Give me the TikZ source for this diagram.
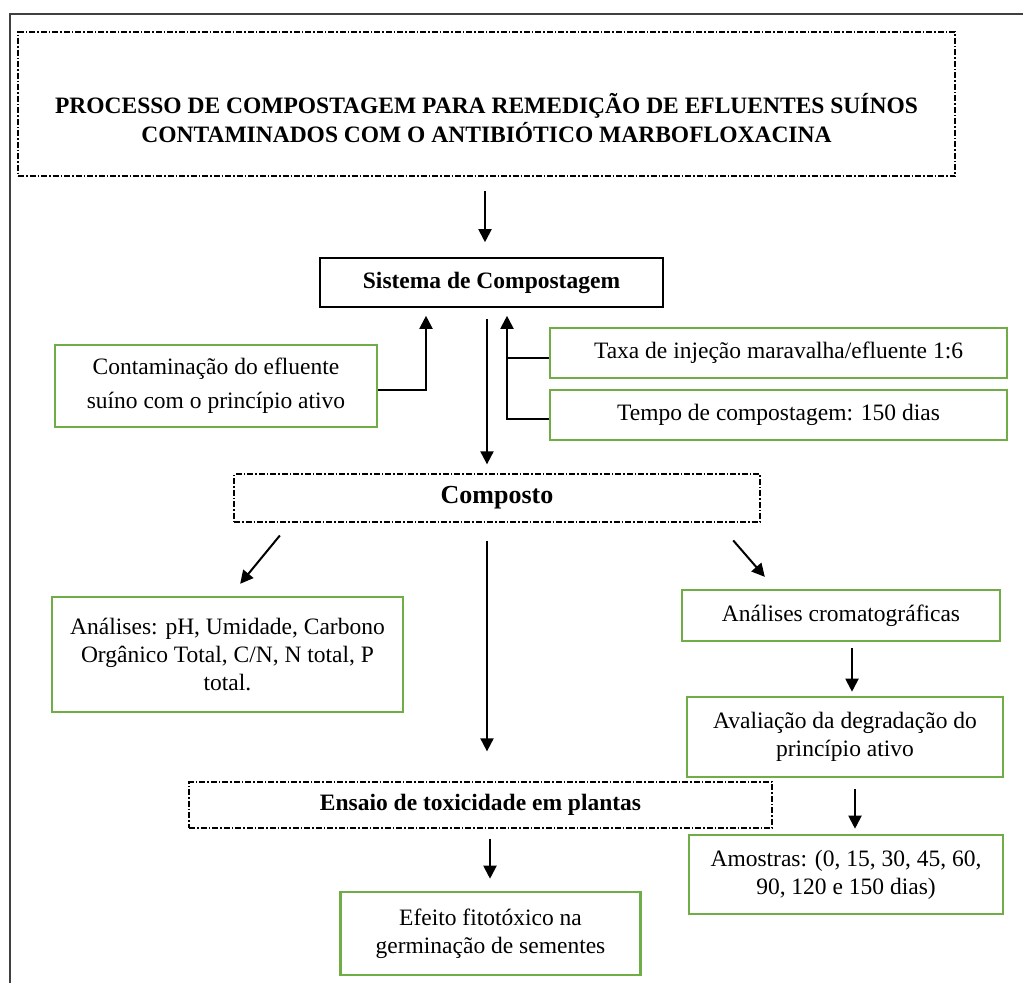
\documentclass[tikz,border=0pt]{standalone}
\usepackage{fontspec}
\setmainfont{Liberation Serif}
\usetikzlibrary{arrows.meta}
\definecolor{boxgreen}{RGB}{112,173,71}

\begin{document}
\begin{tikzpicture}[x=1pt, y=-1pt,
    txt/.style={font=\fontsize{23.5}{28}\selectfont, align=center},
    greenbox/.style={txt, draw=boxgreen, line width=2.6pt, inner sep=0pt},
    blackbox/.style={txt, draw, line width=1.6pt, inner sep=0pt, font=\bfseries\fontsize{23.5}{28}\selectfont},
    dashbox/.style={txt, draw, line width=1.3pt, dash pattern=on 6pt off 2pt on 1.5pt off 2pt, inner sep=0pt, font=\bfseries\fontsize{23.5}{28}\selectfont},
    arrow/.style={-{Triangle[length=13pt,width=13pt]}, line width=2pt}]
    \useasboundingbox (0,0) rectangle (1023,983);
    \draw[line width=2pt, black!75] (1023,14) -- (10,14) -- (10,983);

    % Nodes
    \node[dashbox, minimum width=937pt, minimum height=144pt] (titlebox) at (486.5,104) {};
    \node[txt, font=\bfseries\fontsize{23.5}{29}\selectfont] (title) at (486.5,118.5) {PROCESSO DE COMPOSTAGEM PARA REMEDIÇÃO DE EFLUENTES SUÍNOS\\CONTAMINADOS COM O ANTIBIÓTICO MARBOFLOXACINA};
    \node[blackbox, minimum width=343pt, minimum height=49pt] (sistema) at (491.5,282.5) {Sistema de Compostagem};
    \node[greenbox, minimum width=322pt, minimum height=82pt] (contam) at (216,386) {Contaminação do efluente\\[6pt]suíno com o princípio ativo}; % input
    \node[greenbox, minimum width=457pt, minimum height=50pt] (taxa) at (778.5,353) {Taxa de injeção maravalha/efluente 1:6}; % input
    \node[greenbox, minimum width=457pt, minimum height=50pt] (tempo) at (778.5,415) {Tempo de compostagem: 150 dias}; % input
    \node[dashbox, minimum width=526pt, minimum height=48pt, font=\bfseries\fontsize{26}{30}\selectfont] (composto) at (497,498) {Composto};
    \node[greenbox, minimum width=351pt, minimum height=115pt] (analises) at (227.5,654.5) {Análises: pH, Umidade, Carbono\\Orgânico Total, C/N, N total, P\\total.};
    \node[greenbox, minimum width=318pt, minimum height=51pt] (cromato) at (841,615.5) {Análises cromatográficas};
    \node[greenbox, minimum width=316pt, minimum height=80pt] (avaliacao) at (845,737) {Avaliação da degradação do\\princípio ativo};
    \node[greenbox, minimum width=314pt, minimum height=79pt] (amostras) at (846,874.5) {Amostras: (0, 15, 30, 45, 60,\\90, 120 e 150 dias)};
    \node[dashbox, minimum width=583pt, minimum height=46pt] (ensaio) at (480.5,805) {Ensaio de toxicidade em plantas};
    \node[greenbox, minimum width=300pt, minimum height=83pt] (efeito) at (490.5,933.5) {Efeito fitotóxico na\\germinação de sementes};

    % Edges
    \draw[arrow, shorten <=14pt, shorten >=15pt] ([xshift=-1.5pt]titlebox.south) -- ([xshift=-1.5pt]titlebox.south |- sistema.north);
    \draw[arrow, shorten >=8pt] ([yshift=-4pt]contam.east) -| ([xshift=-65.5pt]sistema.south);
    \draw[arrow, shorten >=8pt] ([yshift=-4pt]tempo.west) -| ([xshift=15.5pt]sistema.south);
    \draw[line width=2pt] ([yshift=-5pt]taxa.west) -- +(-43pt,0);
    \draw[arrow, shorten <=11pt, shorten >=9pt] ([xshift=-4.5pt]sistema.south) -- ([xshift=-4.5pt]sistema.south |- composto.north);
    \draw[arrow, shorten <=16.6pt, shorten >=15.4pt] ([xshift=-206.6pt]composto.south) -- ([xshift=2.9pt]analises.north);
    \draw[arrow, shorten <=23.5pt, shorten >=15.7pt] ([xshift=220.8pt]composto.south) -- ([xshift=-65.9pt]cromato.north);
    \draw[arrow, shorten <=18pt, shorten >=30pt] ([xshift=-10pt]composto.south) -- ([xshift=-10pt]composto.south |- ensaio.north);
    \draw[arrow, shorten <=10pt, shorten >=12pt] ([xshift=9.5pt]ensaio.south) -- ([xshift=9.5pt]ensaio.south |- efeito.north);
    \draw[arrow, shorten <=6pt, shorten >=4pt] ([xshift=11pt]cromato.south) -- ([xshift=11pt]cromato.south |- avaliacao.north);
    \draw[arrow, shorten <=11pt, shorten >=5pt] ([xshift=10pt]avaliacao.south) -- ([xshift=10pt]avaliacao.south |- amostras.north);
\end{tikzpicture}
\end{document}
